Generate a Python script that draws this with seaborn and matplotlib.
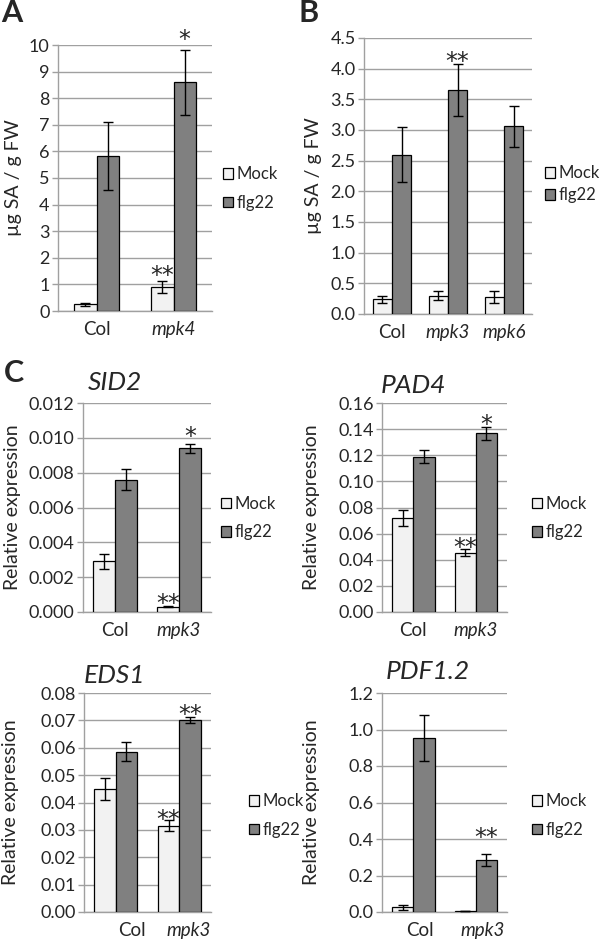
import numpy as np
import pandas as pd
import matplotlib
matplotlib.use("Agg")
import matplotlib.pyplot as plt
import matplotlib.transforms as mtrans
from matplotlib.patches import Patch
import seaborn as sns

# -------------------------------------------
# data
# -------------------------------------------
# A: SA content, mpk4
a_geno = ["Col", "mpk4"]
a_mock = [0.25, 0.90]
a_mock_err = [0.05, 0.23]
a_flg = [5.82, 8.60]
a_flg_err = [1.28, 1.22]

# B: SA content, mpk3 / mpk6
b_geno = ["Col", "mpk3", "mpk6"]
b_mock = [0.24, 0.30, 0.28]
b_mock_err = [0.06, 0.07, 0.10]
b_flg = [2.60, 3.65, 3.06]
b_flg_err = [0.45, 0.42, 0.33]

# C: relative expression in mpk3
c_geno = ["Col", "mpk3"]
sid2_mock = [0.0029, 0.0003]
sid2_mock_err = [0.00045, 0.00002]
sid2_flg = [0.0076, 0.0094]
sid2_flg_err = [0.0006, 0.00025]

pad4_mock = [0.072, 0.0455]
pad4_mock_err = [0.006, 0.0025]
pad4_flg = [0.119, 0.137]
pad4_flg_err = [0.005, 0.005]

eds1_mock = [0.045, 0.0315]
eds1_mock_err = [0.004, 0.002]
eds1_flg = [0.0585, 0.0702]
eds1_flg_err = [0.0035, 0.0012]

pdf12_mock = [0.025, 0.005]
pdf12_mock_err = [0.015, 0.001]
pdf12_flg = [0.953, 0.287]
pdf12_flg_err = [0.125, 0.033]

treatments = ["Mock", "flg22"]
colors = {"Mock": "#f2f2f2", "flg22": "#808080"}
grid_col = "#a0a0a0"
STAR_FS = 17

sns.set_theme(style="white")
plt.rcParams["font.family"] = ["Lato", "DejaVu Sans"]

fig = plt.figure(figsize=(6, 9.43), dpi=100)
W, H = 600, 943


def px_axes(left, right, top, bottom):
    return fig.add_axes([left / W, 1 - bottom / H, (right - left) / W, (bottom - top) / H])


def panel(box, geno, mock, mock_err, flg, flg_err, ymax, ystep, fmt, width,
          ylabel, ylab_x, leg_xy, stars, title=None, title_xy=None, xshift=None,
          legspace=0.75):
    ax = px_axes(*box)
    df = pd.DataFrame({
        "genotype": geno * 2,
        "treatment": ["Mock"] * len(geno) + ["flg22"] * len(geno),
        "value": mock + flg,
    })
    sns.barplot(data=df, x="genotype", y="value", hue="treatment", hue_order=treatments,
                palette=colors, width=width, errorbar=None, edgecolor="black",
                linewidth=0.9, legend=False, ax=ax, zorder=3)
    bars = list(ax.containers[:2])
    errs = [mock_err, flg_err]
    for k, cont in enumerate(bars):
        xs = [p.get_x() + p.get_width() / 2 for p in cont]
        ys = [p.get_height() for p in cont]
        ax.errorbar(xs, ys, yerr=errs[k], fmt="none", ecolor="black", elinewidth=1,
                    capsize=3.5, capthick=1, zorder=4)
    # significance marks (asterisk glyph sits high, so shift it down)
    star_tr = mtrans.offset_copy(ax.transData, fig=fig, y=-0.6 * STAR_FS, units="points")
    for gi, tr, y, s in stars:
        p = bars[treatments.index(tr)][gi]
        ax.text(p.get_x() + p.get_width() / 2, y, s, ha="center", va="baseline",
                fontsize=STAR_FS, family="DejaVu Sans", transform=star_tr, clip_on=False)

    n = len(geno)
    ax.set_xlim(-0.5, n - 0.5)
    ax.set_ylim(0, ymax)
    ax.set_yticks(np.arange(0, ymax + ystep / 2, ystep))
    ax.yaxis.set_major_formatter(plt.FormatStrFormatter(fmt))
    ax.set_xticks(np.arange(-0.5, n, 1), minor=True)
    ax.set_xticks(range(n))
    ax.set_xticklabels(geno)
    for lab in ax.get_xticklabels():
        if lab.get_text() != "Col":
            lab.set_fontstyle("italic")
    ax.tick_params(axis="x", which="major", length=0, pad=7, labelsize=13.5)
    ax.tick_params(axis="x", which="minor", length=5, width=1, color=grid_col, direction="out")
    ax.tick_params(axis="y", length=4, width=1, color=grid_col, pad=2, labelsize=13, left=True)
    ax.grid(axis="y", color=grid_col, linewidth=1, zorder=0)
    ax.set_axisbelow(True)
    for side in ["top", "right"]:
        ax.spines[side].set_visible(False)
    for side in ["left", "bottom"]:
        ax.spines[side].set_color(grid_col)
        ax.spines[side].set_linewidth(1)
    ax.set_xlabel("")
    ax.set_ylabel(ylabel, fontsize=14)
    ax.yaxis.label.set_va("center")
    ax.yaxis.set_label_coords(ylab_x, 0.5)

    handles = [Patch(facecolor=colors[t], edgecolor="black", linewidth=0.9, label=t)
               for t in treatments]
    ax.legend(handles=handles, loc="center left", bbox_to_anchor=leg_xy, frameon=False,
              fontsize=12, handlelength=0.6, handleheight=0.6, handletextpad=0.2,
              labelspacing=legspace, borderpad=0, borderaxespad=0)
    if title:
        ax.text(title_xy[0], title_xy[1], title, transform=ax.transAxes, ha="center",
                va="center", fontsize=19, fontstyle="italic")
    if xshift:
        for lab, dx in zip(ax.get_xticklabels(), xshift):
            lab.set_transform(lab.get_transform()
                              + mtrans.ScaledTranslation(dx / 100, 0, fig.dpi_scale_trans))
    return ax


panel((58, 212, 45, 311), a_geno, a_mock, a_mock_err, a_flg, a_flg_err,
      10, 1, "%d", 0.58, "µg SA / g FW", -0.29, (1.07, 0.46),
      [(1, "Mock", 1.6, "**"), (1, "flg22", 10.45, "*")])

panel((364, 532, 38, 314), b_geno, b_mock, b_mock_err, b_flg, b_flg_err,
      4.5, 0.5, "%.1f", 0.69, "µg SA / g FW", -0.30, (1.08, 0.47),
      [(1, "flg22", 4.22, "**")], legspace=0.35)

panel((83, 211, 403, 612), c_geno, sid2_mock, sid2_mock_err, sid2_flg, sid2_flg_err,
      0.012, 0.002, "%.3f", 0.68, "Relative expression", -0.55, (1.08, 0.45),
      [(1, "Mock", 0.00086, "**"), (1, "flg22", 0.01045, "*")],
      title="SID2", title_xy=(0.25, 1.096))

panel((382, 507, 403, 612), c_geno, pad4_mock, pad4_mock_err, pad4_flg, pad4_flg_err,
      0.16, 0.02, "%.2f", 0.68, "Relative expression", -0.56, (1.2, 0.45),
      [(1, "Mock", 0.0543, "**"), (1, "flg22", 0.1485, "*")],
      title="PAD4", title_xy=(0.25, 1.086))

panel((84, 211, 693, 912), c_geno, eds1_mock, eds1_mock_err, eds1_flg, eds1_flg_err,
      0.08, 0.01, "%.2f", 0.67, "Relative expression", -0.58, (1.3, 0.44),
      [(1, "Mock", 0.0362, "**"), (1, "flg22", 0.0745, "**")],
      title="EDS1", title_xy=(0.24, 1.082), xshift=(16, 9))

panel((382, 507, 693, 912), c_geno, pdf12_mock, pdf12_mock_err, pdf12_flg, pdf12_flg_err,
      1.2, 0.2, "%.1f", 0.68, "Relative expression", -0.56, (1.2, 0.44),
      [(1, "flg22", 0.444, "**")],
      title="PDF1.2", title_xy=(0.37, 1.096), xshift=(7, 7))

# panel letters
for lx, ly, letter in [(12, 13, "A"), (309, 13, "B"), (14, 373, "C")]:
    fig.text(lx / W, 1 - ly / H, letter, ha="center", va="center",
             fontsize=22, fontweight="bold")

fig.savefig("out.png", dpi=100)
